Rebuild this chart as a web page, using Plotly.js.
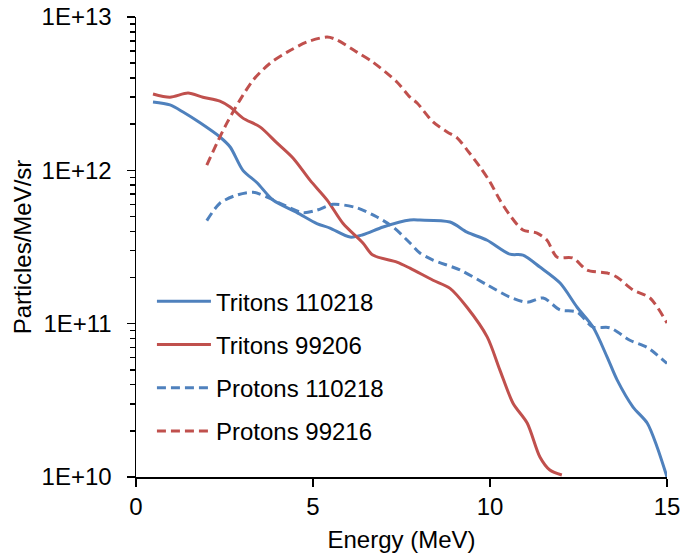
<!DOCTYPE html>
<html>
<head>
<meta charset="utf-8">
<script src="https://cdn.plot.ly/plotly-3.0.1.min.js"></script>
<style>
  html, body { margin: 0; padding: 0; background: #fff; }
  #chart { width: 680px; height: 556px; }
</style>
</head>
<body>
<div id="chart"></div>
<script>
// Energy (MeV) and Particles/MeV/sr values
const tritons110218_x = [0.48, 0.96, 1.33, 1.81, 2.37, 2.66, 3.02, 3.42, 3.87, 4.55, 5.11, 5.48, 6.05, 6.41, 6.98, 7.74, 8.02, 8.87, 9.35, 9.92, 10.56, 10.93, 11.41, 11.98, 12.46, 12.91, 13.31, 13.59, 14.04, 14.44, 14.72, 15.0];
const tritons110218_y = [2.79e12, 2.67e12, 2.4e12, 2.04e12, 1.65e12, 1.42e12, 1.0e12, 8.3e11, 6.4e11, 5.3e11, 4.5e11, 4.2e11, 3.67e11, 3.8e11, 4.27e11, 4.74e11, 4.74e11, 4.6e11, 3.95e11, 3.5e11, 2.84e11, 2.8e11, 2.34e11, 1.84e11, 1.28e11, 9.5e10, 6.05e10, 4.3e10, 2.86e10, 2.25e10, 1.57e10, 1.0e10];

const tritons99206_x = [0.48, 0.96, 1.47, 1.89, 2.37, 2.66, 3.02, 3.50, 3.98, 4.44, 4.92, 5.40, 5.85, 6.41, 6.69, 7.37, 7.74, 8.39, 8.87, 9.35, 9.92, 10.28, 10.65, 11.05, 11.41, 11.69, 12.03];
const tritons99206_y = [3.15e12, 3.0e12, 3.19e12, 3.0e12, 2.83e12, 2.59e12, 2.19e12, 1.92e12, 1.51e12, 1.2e12, 8.6e11, 6.4e11, 4.5e11, 3.36e11, 2.8e11, 2.52e11, 2.3e11, 1.92e11, 1.7e11, 1.28e11, 8.2e10, 4.98e10, 3.03e10, 2.25e10, 1.35e10, 1.11e10, 1.03e10];

const protons110218_x = [2.0, 2.37, 2.85, 3.31, 3.70, 4.07, 4.72, 5.11, 5.56, 6.24, 6.81, 7.26, 7.74, 8.02, 8.39, 9.15, 9.92, 10.56, 11.05, 11.50, 11.98, 12.46, 12.91, 13.39, 13.95, 14.44, 15.0];
const protons110218_y = [4.7e11, 6.1e11, 6.9e11, 7.2e11, 6.7e11, 6.1e11, 5.3e11, 5.5e11, 6.0e11, 5.7e11, 4.96e11, 4.27e11, 3.36e11, 2.89e11, 2.6e11, 2.24e11, 1.79e11, 1.49e11, 1.38e11, 1.47e11, 1.23e11, 1.19e11, 9.5e10, 9.4e10, 7.8e10, 7.0e10, 5.5e10];

const protons99216_x = [2.0, 2.29, 2.57, 2.94, 3.31, 3.79, 4.27, 4.83, 5.40, 5.68, 6.24, 6.69, 7.37, 7.74, 7.94, 8.39, 8.79, 9.07, 9.35, 9.72, 10.0, 10.28, 10.56, 10.93, 11.33, 11.61, 11.89, 12.34, 12.74, 13.31, 13.59, 14.04, 14.52, 15.0];
const protons99216_y = [1.08e12, 1.51e12, 2.04e12, 2.88e12, 3.88e12, 5.0e12, 5.9e12, 6.87e12, 7.4e12, 7.08e12, 5.9e12, 5.08e12, 3.77e12, 3.0e12, 2.75e12, 2.07e12, 1.78e12, 1.63e12, 1.36e12, 1.05e12, 8.4e11, 6.4e11, 5.1e11, 4.08e11, 3.9e11, 3.5e11, 2.72e11, 2.68e11, 2.24e11, 2.14e11, 2.01e11, 1.66e11, 1.47e11, 1.01e11];

const seriesNames = ["Tritons 110218", "Tritons 99206", "Protons 110218", "Protons 99216"];
const xTickVals = [0, 5, 10, 15];
const yTickVals = [1e10, 1e11, 1e12, 1e13];
const yTickText = ["1E+10", "1E+11", "1E+12", "1E+13"];

const BLUE = "#4F81BD";
const RED = "#C0504D";
const FONT = "Liberation Sans, Arial, sans-serif";

function tr(x, y, name, color, dash, grp) {
  return {
    type: "scatter", mode: "lines", x: x, y: y, name: name,
    legendgroup: grp,
    line: { color: color, width: 3, dash: dash, shape: "spline", smoothing: 0.8 },
    hoverinfo: "skip"
  };
}

const data = [
  tr(tritons110218_x, tritons110218_y, seriesNames[0], BLUE, "solid", "a"),
  tr(tritons99206_x, tritons99206_y, seriesNames[1], RED, "solid", "b"),
  tr(protons110218_x, protons110218_y, seriesNames[2], BLUE, "9px,5px", "c"),
  tr(protons99216_x, protons99216_y, seriesNames[3], RED, "9px,5px", "d")
];

const layout = {
  width: 680, height: 556,
  margin: { l: 136, r: 13, t: 17, b: 79, pad: 0 },
  paper_bgcolor: "#fff", plot_bgcolor: "#fff",
  font: { family: FONT, size: 24, color: "#000" },
  showlegend: true,
  legend: {
    x: 0.03, y: 0.43, xanchor: "left", yanchor: "top",
    bgcolor: "rgba(0,0,0,0)",
    font: { family: FONT, size: 24, color: "#000" },
    traceorder: "grouped", tracegroupgap: 9,
    itemwidth: 54
  },
  xaxis: {
    range: [0, 15], tickvals: xTickVals, ticktext: xTickVals.map(String),
    showline: true, linecolor: "#000", linewidth: 1.5,
    ticks: "outside", ticklen: 8, tickwidth: 1.5, tickcolor: "#000",
    ticklabeloverflow: "allow",
    showgrid: false, zeroline: false,
    tickfont: { family: FONT, size: 24, color: "#000" },
    title: { text: "Energy (MeV)", font: { family: FONT, size: 24, color: "#000" }, standoff: 12 }
  },
  yaxis: {
    type: "log", range: [10, 13],
    tickvals: yTickVals, ticktext: yTickText,
    showline: true, linecolor: "#000", linewidth: 1.5,
    ticks: "outside", ticklen: 8, tickwidth: 1.5, tickcolor: "#000",
    ticklabelstandoff: 10,
    minor: { dtick: "D1", ticks: "outside", ticklen: 5, tickwidth: 1.5, tickcolor: "#000", showgrid: false },
    showgrid: false, zeroline: false,
    tickfont: { family: FONT, size: 24, color: "#000" },
    title: { text: "Particles/MeV/sr", font: { family: FONT, size: 24, color: "#000" }, standoff: 3 }
  }
};

Plotly.newPlot("chart", data, layout, { staticPlot: true, displayModeBar: false });
</script>
</body>
</html>
